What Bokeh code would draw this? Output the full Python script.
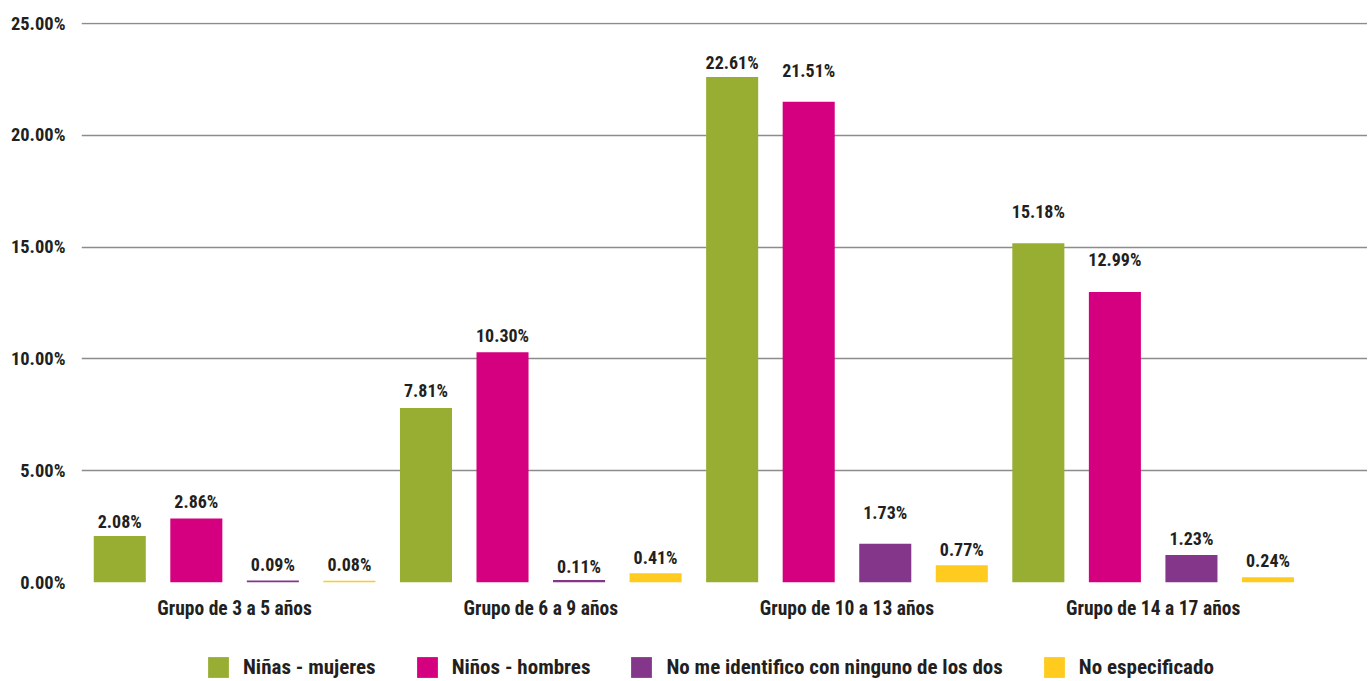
from bokeh.plotting import figure
from bokeh.layouts import column
from bokeh.models import (ColumnDataSource, Range1d, FixedTicker, Legend, LegendItem,
                          LabelSet, PrintfTickFormatter)
from bokeh.core.properties import value
from bokeh.embed import file_html
from bokeh.resources import INLINE

# ---- data ----
groups = ["Grupo de 3 a 5 años", "Grupo de 6 a 9 años", "Grupo de 10 a 13 años", "Grupo de 14 a 17 años"]
series_names = ["Niñas - mujeres", "Niños - hombres", "No me identifico con ninguno de los dos", "No especificado"]
ninas = [2.08, 7.81, 22.61, 15.18]
ninos = [2.86, 10.30, 21.51, 12.99]
ninguno = [0.09, 0.11, 1.73, 1.23]
no_esp = [0.08, 0.41, 0.77, 0.24]
y_ticks = [0, 5, 10, 15, 20, 25]

# ---- styling ----
colors = ["#97AE33", "#D5007F", "#84368B", "#FFCB1F"]
offsets = [-0.375, -0.125, 0.125, 0.375]
label_lift = [[15, 17, 15, 32], [17, 17, 31, 33], [16, 14, 31, 17], [16, 16, 16, 17]]
FONT = "Roboto Condensed"
TXT = "#231F20"

p = figure(frame_width=1286, frame_height=560, output_backend="svg", toolbar_location=None,
           x_range=Range1d(-0.5, 3.70), y_range=Range1d(0, 25.05),
           min_border_left=81, min_border_right=0, min_border_top=22, min_border_bottom=50)
p.outline_line_color = None
p.background_fill_color = None
p.border_fill_color = "white"

all_series = [ninas, ninos, ninguno, no_esp]
for s, vals in enumerate(all_series):
    xs = [i + offsets[s] for i in range(len(groups))]
    src = ColumnDataSource(dict(x=xs, top=vals,
                                lab=["%.2f%%" % v for v in vals],
                                lift=label_lift[s]))
    p.vbar(x="x", top="top", width=0.17, bottom=0, source=src,
           fill_color=colors[s], line_color=None)
    ls = LabelSet(x="x", y="top", text="lab", source=src, y_offset="lift",
                  text_align="center", text_baseline="middle",
                  text_font=value(FONT), text_font_style="bold", text_font_size="18px",
                  text_color=TXT)
    p.add_layout(ls)

# axes
p.yaxis.ticker = FixedTicker(ticks=y_ticks)
p.yaxis.formatter = PrintfTickFormatter(format="%.2f%%")
p.yaxis.axis_line_color = None
p.yaxis.major_tick_line_color = None
p.yaxis.minor_tick_line_color = None
p.yaxis.major_label_text_font = FONT
p.yaxis.major_label_text_font_style = "bold"
p.yaxis.major_label_text_font_size = "18.5px"
p.yaxis.major_label_text_color = TXT
p.yaxis.major_label_standoff = 10

p.xaxis.ticker = FixedTicker(ticks=list(range(len(groups))))
p.xaxis.major_label_overrides = {i: g for i, g in enumerate(groups)}
p.xaxis.axis_line_color = None
p.xaxis.major_tick_line_color = None
p.xaxis.minor_tick_line_color = None
p.xaxis.major_label_text_font = FONT
p.xaxis.major_label_text_font_style = "bold"
p.xaxis.major_label_text_font_size = "19.5px"
p.xaxis.major_label_text_color = TXT
p.xaxis.major_label_standoff = 8

p.xgrid.grid_line_color = None
p.ygrid.ticker = FixedTicker(ticks=y_ticks)
p.ygrid.grid_line_color = "#8C8C8C"
p.ygrid.grid_line_width = 1.5
p.ygrid.level = "underlay"

# ---- legend strip (swatch renderers have zero height, only the legend shows) ----
lg = figure(width=1367, height=48, output_backend="svg", toolbar_location=None,
            x_range=Range1d(0, 1), y_range=Range1d(0, 1),
            x_axis_type=None, y_axis_type=None,
            min_border_left=0, min_border_right=0, min_border_top=0, min_border_bottom=0)
lg.outline_line_color = None
lg.grid.visible = False
items = []
for s, name in enumerate(series_names):
    r = lg.vbar(x=[0.5], top=[0], bottom=[0], width=0.1, fill_color=colors[s], line_color=None)
    items.append(LegendItem(label=name, renderers=[r]))
legend = Legend(items=items, orientation="horizontal", location=(124, 0),
                glyph_width=26, glyph_height=26, label_standoff=12, spacing=38,
                label_text_font=FONT, label_text_font_style="bold",
                label_text_font_size="21px", label_text_color=TXT,
                border_line_color=None, background_fill_alpha=0,
                padding=0, margin=0)
lg.add_layout(legend)

layout = column(p, lg, spacing=0)
open("out.html", "w").write(file_html(layout, INLINE))
